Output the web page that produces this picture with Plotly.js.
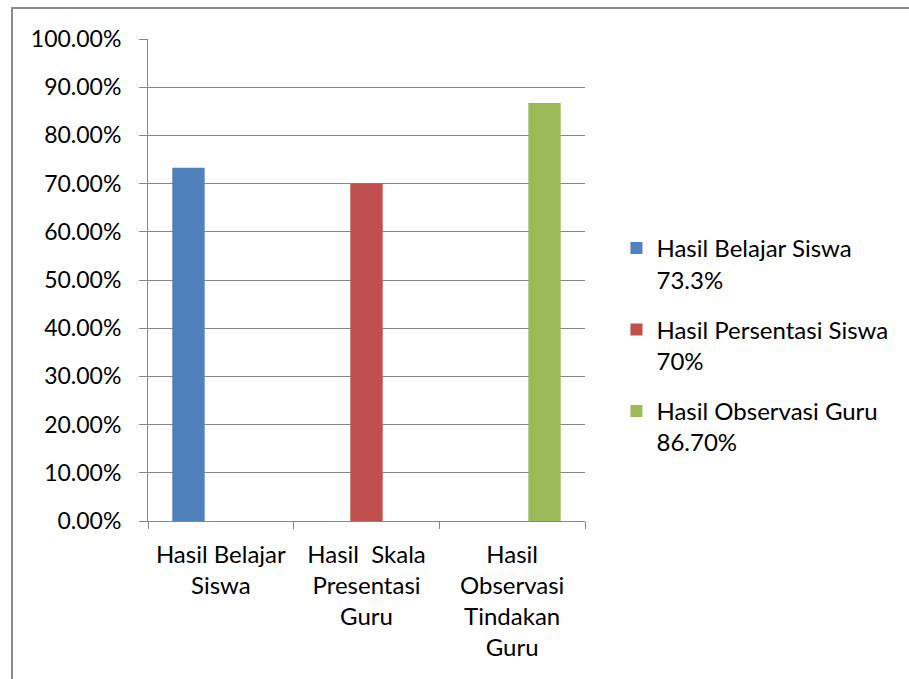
<!DOCTYPE html>
<html>
<head>
<meta charset="utf-8">
<script src="https://cdn.plot.ly/plotly-3.0.1.min.js"></script>
<style>
html,body{margin:0;padding:0;background:#fff;}
#wrap{position:relative;width:909px;height:679px;}
#chart{width:909px;height:679px;}
#frame{position:absolute;left:11px;top:7px;right:-5px;bottom:-5px;border-left:2px solid #8a8a8a;border-top:2px solid #8a8a8a;pointer-events:none;}
</style>
</head>
<body>
<div id="wrap"><div id="chart"></div><div id="frame"></div></div>
<script>
const categories = ["Hasil Belajar<br>Siswa", "Hasil\u00A0 Skala<br>Presentasi<br>Guru", "Hasil<br>Observasi<br>Tindakan<br>Guru"];
const seriesNames = ["Hasil Belajar Siswa<br>73.3%", "Hasil Persentasi Siswa<br>70%", "Hasil Observasi Guru<br>86.70%"];
const belajarValues = [0.733, null, null];
const persentasiValues = [null, 0.70, null];
const observasiValues = [null, null, 0.867];
const yTickValues = [0, 0.1, 0.2, 0.3, 0.4, 0.5, 0.6, 0.7, 0.8, 0.9, 1.0];

const colors = ["#4F81BD", "#C0504D", "#9BBB59"];
const seriesValues = [belajarValues, persentasiValues, observasiValues];
const FONT = "Lato, 'Liberation Sans', sans-serif";

const traces = seriesValues.map((vals, i) => ({
  type: "bar",
  x: categories,
  y: vals,
  name: seriesNames[i],
  legendgroup: "g" + i,
  marker: {color: colors[i]},
  hoverinfo: "none"
}));

const layout = {
  width: 909, height: 679,
  margin: {l: 148, r: 324, t: 39, b: 158, pad: 0},
  paper_bgcolor: "#ffffff", plot_bgcolor: "#ffffff",
  font: {family: FONT, size: 23, color: "#000000"},
  barmode: "group",
  bargap: 0.3333,
  bargroupgap: 0,
  showlegend: true,
  legend: {
    x: 1.072, xanchor: "left", y: 0.612, yanchor: "top",
    traceorder: "grouped", tracegroupgap: 16, valign: "top",
    font: {family: FONT, size: 24, color: "#000000"},
    bgcolor: "rgba(0,0,0,0)", itemclick: false
  },
  xaxis: {
    type: "category",
    showgrid: false, zeroline: false,
    showline: true, linecolor: "#868686", linewidth: 1,
    ticks: "outside", tickson: "boundaries", ticklen: 7, tickcolor: "#868686",
    ticklabelstandoff: 12,
    tickfont: {family: FONT, size: 24, color: "#000"},
    tickangle: 0, fixedrange: true
  },
  yaxis: {
    range: [0, 1], tickvals: yTickValues, tickformat: ".2%",
    showgrid: true, gridcolor: "#868686", gridwidth: 1,
    zeroline: false,
    showline: true, linecolor: "#868686", linewidth: 1,
    ticks: "outside", ticklen: 8, tickcolor: "#868686",
    ticklabelstandoff: 13,
    tickfont: {family: FONT, size: 23, color: "#000"},
    fixedrange: true
  }
};

Plotly.newPlot("chart", traces, layout, {displayModeBar: false, staticPlot: true});
</script>
</body>
</html>
